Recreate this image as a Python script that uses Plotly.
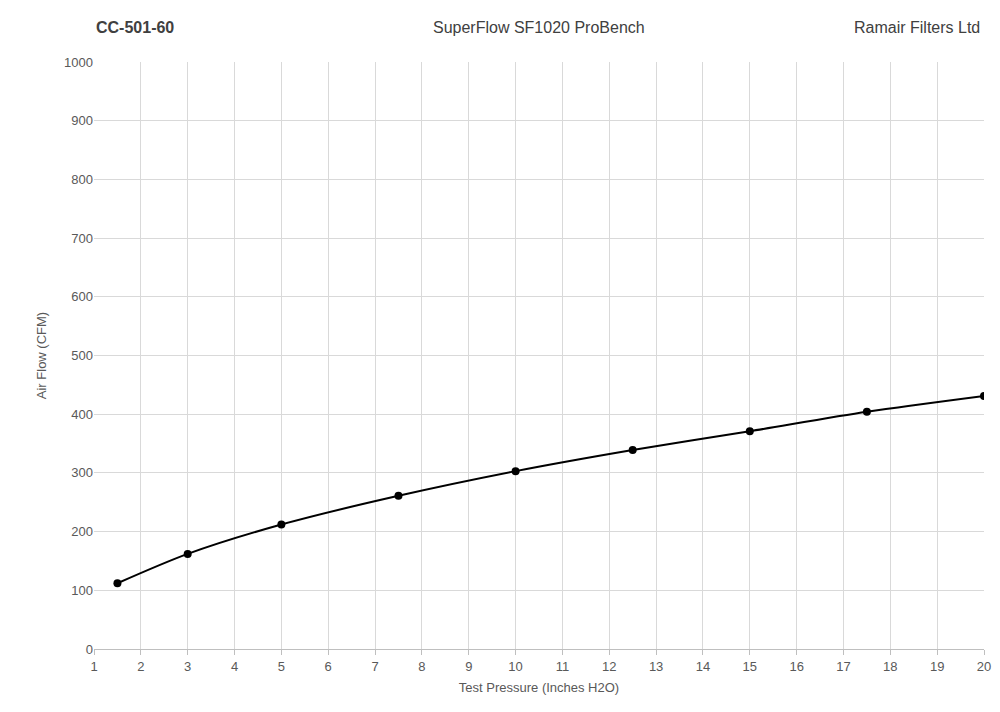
import plotly.graph_objects as go

pressure = [1.5, 3, 5, 7.5, 10, 12.5, 15, 17.5, 20]
airflow = [112, 162, 212, 261, 303, 339, 371, 404, 431]
x_ticks = list(range(1, 21))
y_ticks = list(range(0, 1001, 100))

fig = go.Figure()
fig.add_trace(go.Scatter(x=pressure, y=airflow, mode="lines+markers",
                         line=dict(color="black", width=2, shape="spline", smoothing=0.8),
                         marker=dict(color="black", size=8)))
font = "Liberation Sans"
fig.update_layout(
    width=1000, height=712, paper_bgcolor="white", plot_bgcolor="white",
    showlegend=False, margin=dict(l=86, r=24, t=54, b=71, autoexpand=False),
    font=dict(family=font, size=13, color="#595959"),
    xaxis=dict(range=[1, 20], tickvals=x_ticks, showgrid=True, gridcolor="#d9d9d9",
               zeroline=False, showline=True, linecolor="#bfbfbf", ticks="outside",
               ticklen=5, tickcolor="#bfbfbf",
               title=dict(text="Test Pressure (Inches H2O)", font=dict(size=13, color="#595959"), standoff=10)),
    yaxis=dict(range=[0, 1000], tickvals=y_ticks, showgrid=True, gridcolor="#d9d9d9",
               zeroline=False, showline=False,
               title=dict(text="Air Flow (CFM)", font=dict(size=13, color="#595959"), standoff=14)),
    annotations=[
        dict(text="<b>CC-501-60</b>", xref="paper", yref="paper", x=0.0, y=1.058,
             xanchor="left", yanchor="middle", showarrow=False, font=dict(size=16, color="#404040")),
        dict(text="SuperFlow SF1020 ProBench", xref="paper", yref="paper", x=0.5, y=1.058,
             xanchor="center", yanchor="middle", showarrow=False, font=dict(size=16, color="#404040")),
        dict(text="Ramair Filters Ltd", xref="paper", yref="paper", x=0.998, y=1.058,
             xanchor="right", yanchor="middle", showarrow=False, font=dict(size=16, color="#404040")),
    ],
)
fig.write_html("out.html")
